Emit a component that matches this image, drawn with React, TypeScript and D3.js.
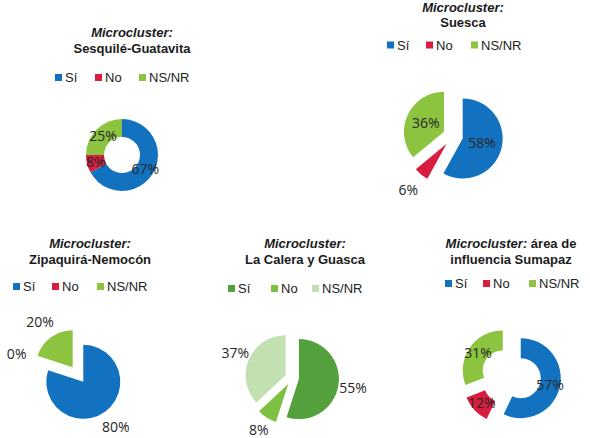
import React from 'react'
import * as d3 from 'd3'

// answers shared by every panel
const categories = ['Sí', 'No', 'NS/NR']

// percentage of answers per microcluster
const sesquileValues = [67, 8, 25]
const suescaValues = [58, 6, 36]
const zipaquiraValues = [80, 0, 20]
const laCaleraValues = [55, 8, 37]
const sumapazValues = [57, 12, 31]

const titleLines = [
    ['Sesquilé-Guatavita'],
    ['Suesca'],
    ['Zipaquirá-Nemocón'],
    ['La Calera y Guasca'],
    [' área de', 'influencia Sumapaz'],
]

const blueRedGreen = ['#1372c0', '#d81d3f', '#8cc43f']
const greens = ['#53a03c', '#7cc142', '#c3e0b1']

type Panel = {
    values: number[],
    colors: string[],
    title: string[],
    titleX: number,
    titleY: number,
    lineGap: number,
    legendY: number,
    legendX: number[],
    cx: number,
    cy: number,
    radius: number,
    inner: number,
    explode: number,
    outside: number,
    placement: ('in' | 'out')[],
}

const panels: Panel[] = [
    {
        values: sesquileValues, colors: blueRedGreen, title: titleLines[0],
        titleX: 132, titleY: 36.5, lineGap: 16, legendY: 82, legendX: [55, 95, 139],
        cx: 122, cy: 155, radius: 36, inner: 18, explode: 0, outside: 1.5,
        placement: ['in', 'in', 'in'],
    },
    {
        values: suescaValues, colors: blueRedGreen, title: titleLines[1],
        titleX: 463, titleY: 11.5, lineGap: 15, legendY: 49.5, legendX: [387, 426, 471],
        cx: 453, cy: 136, radius: 40, inner: 0, explode: 10, outside: 1.5,
        placement: ['in', 'out', 'in'],
    },
    {
        values: zipaquiraValues, colors: blueRedGreen, title: titleLines[2],
        titleX: 90, titleY: 248, lineGap: 16, legendY: 291, legendX: [13, 52, 97],
        cx: 78, cy: 374.5, radius: 37, inner: 0, explode: 9, outside: 1.5,
        placement: ['out', 'out', 'out'],
    },
    {
        values: laCaleraValues, colors: greens, title: titleLines[3],
        titleX: 305, titleY: 248, lineGap: 16, legendY: 293, legendX: [228, 271, 312],
        cx: 292, cy: 378, radius: 40, inner: 0, explode: 7, outside: 1.37,
        placement: ['out', 'out', 'out'],
    },
    {
        values: sumapazValues, colors: blueRedGreen, title: titleLines[4],
        titleX: 511, titleY: 248, lineGap: 16, legendY: 288, legendX: [445, 483, 529],
        cx: 511, cy: 376, radius: 40, inner: 20, explode: 10, outside: 1.5,
        placement: ['in', 'in', 'in'],
    },
]

const titleFont = 'Liberation Sans, Arial, sans-serif'
const labelFont = 'Open Sans, sans-serif'

const pie = d3.pie<number>().sort(null).value(d => d)

const PiePanel = ({ p }: { p: Panel }) => {
    const arc = d3.arc<d3.PieArcDatum<number>>()
        .innerRadius(p.inner)
        .outerRadius(p.radius)
    const slices = pie(p.values)

    // a one-line title keeps "Microcluster:" alone on the first line
    const twoPartFirstLine = p.title.length > 1

    return (
        <g>
            <text x={p.titleX} y={p.titleY} textAnchor="middle" fontFamily={titleFont}
                fontSize={13} fontWeight="bold" fill="#1b1b1b">
                <tspan fontStyle="italic">Microcluster:</tspan>
                {twoPartFirstLine && <tspan>{p.title[0]}</tspan>}
            </text>
            <text x={p.titleX} y={p.titleY + p.lineGap} textAnchor="middle" fontFamily={titleFont}
                fontSize={13} fontWeight="bold" fill="#1b1b1b">
                {twoPartFirstLine ? p.title[1] : p.title[0]}
            </text>

            {categories.map((c, i) => (
                <g key={c}>
                    <rect x={p.legendX[i]} y={p.legendY - 8} width={7} height={7} fill={p.colors[i]} />
                    <text x={p.legendX[i] + 10} y={p.legendY} fontFamily={titleFont}
                        fontSize={13} fill="#222">{c}</text>
                </g>
            ))}

            <g transform={`translate(${p.cx},${p.cy})`}>
                {slices.map((s, i) => {
                    const mid = (s.startAngle + s.endAngle) / 2
                    const dx = p.explode * Math.sin(mid)
                    const dy = -p.explode * Math.cos(mid)
                    let lx: number, ly: number
                    if (p.placement[i] === 'in') {
                        [lx, ly] = arc.centroid(s)
                    } else {
                        const rho = p.radius * p.outside
                        lx = rho * Math.sin(mid)
                        ly = -rho * Math.cos(mid)
                    }
                    return (
                        <g key={i} transform={`translate(${dx},${dy})`}>
                            {s.value > 0 && <path d={arc(s)!} fill={p.colors[i]} />}
                            <text x={lx} y={ly} dy="0.35em" textAnchor="middle"
                                fontFamily={labelFont} fontSize={14} fill="#262626">
                                {s.value}%
                            </text>
                        </g>
                    )
                })}
            </g>
        </g>
    )
}

const App = () => (
    <div style={{ position: 'absolute', left: 0, top: 0 }}>
        <svg width={590} height={438} style={{ display: 'block', background: '#fff' }}>
            {panels.map((p, i) => <PiePanel key={i} p={p} />)}
        </svg>
    </div>
)

export default App
